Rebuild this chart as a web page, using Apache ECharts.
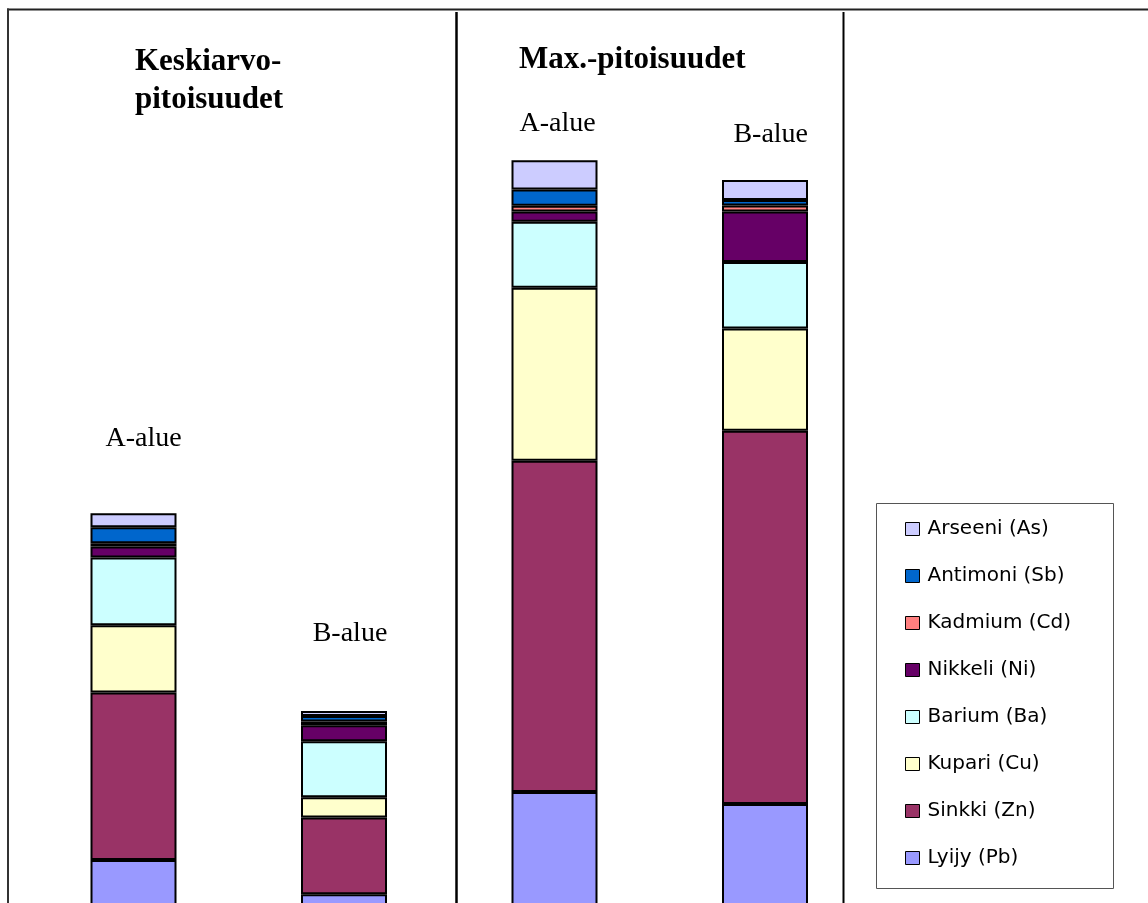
<!DOCTYPE html>
<html>
<head>
<meta charset="utf-8">
<script src="https://cdn.jsdelivr.net/npm/echarts@6/dist/echarts.min.js"></script>
<style>
html,body{margin:0;padding:0;background:#fff;overflow:hidden;}
#chart{width:1148px;height:903px;}
</style>
</head>
<body>
<div id="chart"></div>
<script>
// ---- data ----
const categories = ['Keskiarvo A-alue', 'Keskiarvo B-alue', 'Max A-alue', 'Max B-alue'];
const areaLabels = ['A-alue', 'B-alue', 'A-alue', 'B-alue'];
const panelTitles = ['Keskiarvo-\npitoisuudet', 'Max.-pitoisuudet'];
const seriesNames = ['Lyijy (Pb)', 'Sinkki (Zn)', 'Kupari (Cu)', 'Barium (Ba)', 'Nikkeli (Ni)', 'Kadmium (Cd)', 'Antimoni (Sb)', 'Arseeni (As)'];
const lyijy    = [18.75, 10.2, 35.75, 32.75];
const sinkki   = [41.9, 19.15, 82.8, 93.3];
const kupari   = [16.8, 5.1, 43.25, 25.6];
const barium   = [16.9, 14.0, 16.5, 16.6];
const nikkeli  = [2.8, 4.0, 2.6, 12.6];
const kadmium  = [0.8, 0.9, 1.4, 1.5];
const antimoni = [4.0, 1.4, 4.1, 1.4];
const arseeni  = [3.5, 1.25, 7.3, 5.0];

// ---- styles ----
const colors = ['#9999FF', '#993366', '#FFFFCC', '#CCFFFF', '#660066', '#FF8080', '#0066CC', '#CCCCFF'];
const labelOffsets = [[10, -60.5], [6, -63], [3, -22.8], [5.7, -31.8]];
const allData = [lyijy, sinkki, kupari, barium, nikkeli, kadmium, antimoni, arseeni];

const chart = echarts.init(document.getElementById('chart'), null, {renderer: 'canvas'});

const series = seriesNames.map((name, si) => {
  const isTop = si === seriesNames.length - 1;
  return {
    name: name,
    type: 'bar',
    stack: 'total',
    barWidth: 86,
    itemStyle: {color: colors[si], borderColor: '#000', borderWidth: 2},
    emphasis: {disabled: true},
    data: allData[si].map((v, i) => {
      if (!isTop) return v;
      return {
        value: v,
        label: {
          show: true,
          position: 'top',
          distance: 0,
          offset: labelOffsets[i],
          formatter: () => areaLabels[i],
          fontFamily: 'Liberation Serif',
          fontSize: 28,
          lineHeight: 28,
          color: '#000'
        }
      };
    })
  };
});

const option = {
  animation: false,
  backgroundColor: '#fff',
  title: [
    {text: panelTitles[0], left: 135, top: 43, padding: 0,
     textStyle: {fontFamily: 'Liberation Serif', fontWeight: 'bold', fontSize: 31, lineHeight: 38, color: '#000'}},
    {text: panelTitles[1], left: 519, top: 40.5, padding: 0,
     textStyle: {fontFamily: 'Liberation Serif', fontWeight: 'bold', fontSize: 31, lineHeight: 38, color: '#000'}}
  ],
  legend: {
    orient: 'vertical',
    left: 905,
    top: 519,
    padding: 0,
    itemGap: 27,
    itemWidth: 14,
    itemHeight: 13,
    icon: 'rect',
    selectedMode: false,
    data: seriesNames.slice().reverse(),
    itemStyle: {borderColor: '#000', borderWidth: 1},
    textStyle: {fontFamily: 'DejaVu Sans', fontSize: 20, lineHeight: 20, color: '#000', padding: [0, 0, 0, 3]}
  },
  grid: {left: 28.25, width: 842, top: 135, height: 800, outerBoundsMode: 'none', containLabel: false},
  xAxis: {type: 'category', data: categories, show: false},
  yAxis: {type: 'value', min: 0, max: 200, show: false},
  graphic: [
    {type: 'rect', z: -1, shape: {x: 876.5, y: 503.5, width: 237, height: 385}, style: {fill: '#fff', stroke: '#555', lineWidth: 1}},
    {type: 'line', shape: {x1: 7, y1: 9.5, x2: 1148, y2: 9.5}, style: {stroke: '#222', lineWidth: 2}},
    {type: 'line', shape: {x1: 8, y1: 8.5, x2: 8, y2: 903}, style: {stroke: '#333', lineWidth: 2}},
    {type: 'line', shape: {x1: 456.5, y1: 12, x2: 456.5, y2: 903}, style: {stroke: '#000', lineWidth: 2.5}},
    {type: 'line', shape: {x1: 843.5, y1: 12, x2: 843.5, y2: 903}, style: {stroke: '#000', lineWidth: 2}}
  ],
  series: series
};
chart.setOption(option);
</script>
</body>
</html>
